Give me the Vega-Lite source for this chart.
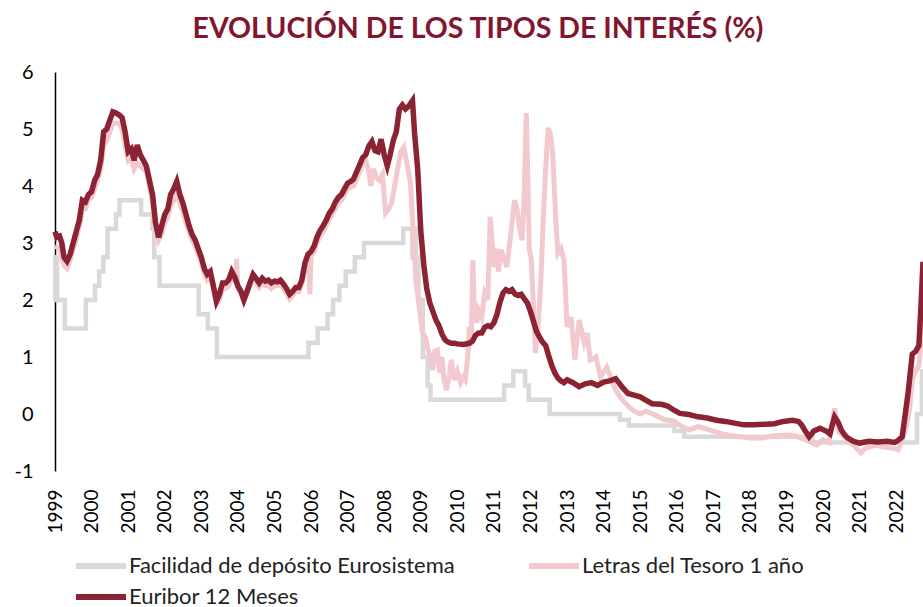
{
  "$schema": "https://vega.github.io/schema/vega-lite/v6.json",
  "width": 868,
  "height": 399,
  "autosize": {"type": "none"},
  "padding": {"left": 55, "top": 72, "right": 0, "bottom": 136},
  "background": "white",
  "config": {
    "view": {"stroke": null},
    "font": "Lato",
    "axis": {"labelFont": "Lato", "labelFontSize": 20, "labelColor": "#000000", "grid": false, "title": null}
  },
  "title": {
    "text": "EVOLUCIÓN DE LOS TIPOS DE INTERÉS (%)",
    "font": "Lato",
    "fontSize": 28.5,
    "fontWeight": "bold",
    "color": "#82162F",
    "anchor": "middle",
    "dx": -11,
    "offset": 19
  },
  "datasets": {
    "dep": [
      {"d": "1999-01-01", "v": 2.0}, {"d": "1999-01-04", "v": 2.75}, {"d": "1999-01-22", "v": 2.0},
      {"d": "1999-04-09", "v": 1.5}, {"d": "1999-11-05", "v": 2.0}, {"d": "2000-02-04", "v": 2.25},
      {"d": "2000-03-17", "v": 2.5}, {"d": "2000-04-28", "v": 2.75}, {"d": "2000-06-09", "v": 3.25},
      {"d": "2000-09-01", "v": 3.5}, {"d": "2000-10-06", "v": 3.75}, {"d": "2001-05-11", "v": 3.5},
      {"d": "2001-08-31", "v": 3.25}, {"d": "2001-09-18", "v": 2.75}, {"d": "2001-11-09", "v": 2.25},
      {"d": "2002-12-06", "v": 1.75}, {"d": "2003-03-07", "v": 1.5}, {"d": "2003-06-06", "v": 1.0},
      {"d": "2005-12-06", "v": 1.25}, {"d": "2006-03-08", "v": 1.5}, {"d": "2006-06-15", "v": 1.75},
      {"d": "2006-08-09", "v": 2.0}, {"d": "2006-10-11", "v": 2.25}, {"d": "2006-12-13", "v": 2.5},
      {"d": "2007-03-14", "v": 2.75}, {"d": "2007-06-13", "v": 3.0}, {"d": "2008-07-09", "v": 3.25},
      {"d": "2008-10-08", "v": 2.75}, {"d": "2008-10-15", "v": 3.25}, {"d": "2008-11-12", "v": 2.75},
      {"d": "2008-12-10", "v": 2.0}, {"d": "2009-01-21", "v": 1.0}, {"d": "2009-03-11", "v": 0.5},
      {"d": "2009-04-08", "v": 0.25}, {"d": "2011-04-13", "v": 0.5}, {"d": "2011-07-13", "v": 0.75},
      {"d": "2011-11-09", "v": 0.5}, {"d": "2011-12-14", "v": 0.25}, {"d": "2012-07-11", "v": 0.0},
      {"d": "2014-06-11", "v": -0.1}, {"d": "2014-09-10", "v": -0.2}, {"d": "2015-12-09", "v": -0.3},
      {"d": "2016-03-16", "v": -0.4}, {"d": "2019-09-18", "v": -0.5}, {"d": "2022-07-27", "v": 0.0},
      {"d": "2022-09-14", "v": 0.75}, {"d": "2022-09-25", "v": 0.75}
    ],
    "letras": [
      {"d": "1999-01-01", "v": 2.95}, {"d": "1999-02-15", "v": 2.9}, {"d": "1999-04-01", "v": 2.6},
      {"d": "1999-05-01", "v": 2.55}, {"d": "1999-06-01", "v": 2.7}, {"d": "1999-07-01", "v": 2.9},
      {"d": "1999-08-01", "v": 3.05}, {"d": "1999-09-01", "v": 3.3}, {"d": "1999-10-01", "v": 3.6},
      {"d": "1999-11-01", "v": 3.6}, {"d": "1999-12-01", "v": 3.75}, {"d": "2000-01-01", "v": 3.8},
      {"d": "2000-02-01", "v": 3.95}, {"d": "2000-03-01", "v": 4.1}, {"d": "2000-04-01", "v": 4.3},
      {"d": "2000-05-01", "v": 4.7}, {"d": "2000-06-01", "v": 4.8}, {"d": "2000-07-01", "v": 4.95},
      {"d": "2000-08-01", "v": 5.1}, {"d": "2000-09-01", "v": 5.1}, {"d": "2000-10-01", "v": 5.1},
      {"d": "2000-11-01", "v": 5.0}, {"d": "2000-12-01", "v": 4.7}, {"d": "2001-01-01", "v": 4.45},
      {"d": "2001-02-01", "v": 4.5}, {"d": "2001-03-01", "v": 4.3}, {"d": "2001-04-01", "v": 4.4},
      {"d": "2001-05-01", "v": 4.35}, {"d": "2001-06-01", "v": 4.3}, {"d": "2001-07-01", "v": 4.25},
      {"d": "2001-08-01", "v": 4.0}, {"d": "2001-09-01", "v": 3.7}, {"d": "2001-10-01", "v": 3.25},
      {"d": "2001-11-01", "v": 3.05}, {"d": "2001-12-01", "v": 3.15}, {"d": "2002-01-01", "v": 3.35},
      {"d": "2002-02-01", "v": 3.45}, {"d": "2002-03-01", "v": 3.65}, {"d": "2002-04-01", "v": 3.75},
      {"d": "2002-05-01", "v": 3.85}, {"d": "2002-06-01", "v": 3.7}, {"d": "2002-07-01", "v": 3.55},
      {"d": "2002-08-01", "v": 3.35}, {"d": "2002-09-01", "v": 3.2}, {"d": "2002-10-01", "v": 3.05},
      {"d": "2002-11-01", "v": 2.95}, {"d": "2002-12-01", "v": 2.8}, {"d": "2003-01-01", "v": 2.65},
      {"d": "2003-02-01", "v": 2.45}, {"d": "2003-03-01", "v": 2.35}, {"d": "2003-04-01", "v": 2.4},
      {"d": "2003-05-01", "v": 2.2}, {"d": "2003-06-01", "v": 1.92}, {"d": "2003-07-01", "v": 2.0},
      {"d": "2003-08-01", "v": 2.2}, {"d": "2003-09-01", "v": 2.2}, {"d": "2003-10-01", "v": 2.25},
      {"d": "2003-11-01", "v": 2.4}, {"d": "2003-12-10", "v": 2.35}, {"d": "2003-12-20", "v": 2.72},
      {"d": "2004-01-01", "v": 2.2}, {"d": "2004-02-01", "v": 2.1}, {"d": "2004-03-01", "v": 2.0},
      {"d": "2004-04-01", "v": 2.1}, {"d": "2004-05-01", "v": 2.25}, {"d": "2004-06-01", "v": 2.35},
      {"d": "2004-07-01", "v": 2.3}, {"d": "2004-08-01", "v": 2.22}, {"d": "2004-09-01", "v": 2.3},
      {"d": "2004-10-01", "v": 2.25}, {"d": "2004-11-01", "v": 2.25}, {"d": "2004-12-01", "v": 2.2},
      {"d": "2005-01-01", "v": 2.25}, {"d": "2005-02-01", "v": 2.25}, {"d": "2005-03-01", "v": 2.28},
      {"d": "2005-04-01", "v": 2.2}, {"d": "2005-05-01", "v": 2.12}, {"d": "2005-06-01", "v": 2.02},
      {"d": "2005-07-01", "v": 2.08}, {"d": "2005-08-01", "v": 2.15}, {"d": "2005-09-01", "v": 2.15},
      {"d": "2005-10-01", "v": 2.28}, {"d": "2005-11-01", "v": 2.55}, {"d": "2005-12-10", "v": 2.75},
      {"d": "2005-12-20", "v": 2.1}, {"d": "2006-01-01", "v": 2.78}, {"d": "2006-02-01", "v": 2.85},
      {"d": "2006-03-01", "v": 3.0}, {"d": "2006-04-01", "v": 3.12}, {"d": "2006-05-01", "v": 3.2},
      {"d": "2006-06-01", "v": 3.3}, {"d": "2006-07-01", "v": 3.42}, {"d": "2006-08-01", "v": 3.5},
      {"d": "2006-09-01", "v": 3.6}, {"d": "2006-10-01", "v": 3.7}, {"d": "2006-11-01", "v": 3.75},
      {"d": "2006-12-01", "v": 3.85}, {"d": "2007-01-01", "v": 3.95}, {"d": "2007-02-01", "v": 3.98},
      {"d": "2007-03-01", "v": 4.0}, {"d": "2007-04-01", "v": 4.12}, {"d": "2007-05-01", "v": 4.25},
      {"d": "2007-06-01", "v": 4.4}, {"d": "2007-07-01", "v": 4.45}, {"d": "2007-08-01", "v": 4.25},
      {"d": "2007-08-20", "v": 4.0}, {"d": "2007-09-15", "v": 4.3}, {"d": "2007-10-15", "v": 4.15},
      {"d": "2007-11-15", "v": 4.1}, {"d": "2007-12-15", "v": 4.2}, {"d": "2008-01-15", "v": 3.53},
      {"d": "2008-02-15", "v": 3.6}, {"d": "2008-03-15", "v": 3.7}, {"d": "2008-04-15", "v": 4.0},
      {"d": "2008-05-15", "v": 4.3}, {"d": "2008-06-15", "v": 4.6}, {"d": "2008-07-15", "v": 4.68},
      {"d": "2008-08-15", "v": 4.4}, {"d": "2008-09-20", "v": 4.05}, {"d": "2008-10-20", "v": 3.1},
      {"d": "2008-11-15", "v": 2.3}, {"d": "2008-12-15", "v": 1.9}, {"d": "2009-01-15", "v": 1.45},
      {"d": "2009-02-15", "v": 1.35}, {"d": "2009-03-15", "v": 1.12}, {"d": "2009-04-15", "v": 0.95},
      {"d": "2009-05-01", "v": 0.77}, {"d": "2009-05-20", "v": 1.1}, {"d": "2009-06-15", "v": 1.12},
      {"d": "2009-07-10", "v": 0.72}, {"d": "2009-08-01", "v": 1.0}, {"d": "2009-08-20", "v": 0.6},
      {"d": "2009-09-15", "v": 0.42}, {"d": "2009-10-15", "v": 0.7}, {"d": "2009-11-01", "v": 0.95},
      {"d": "2009-12-01", "v": 0.6}, {"d": "2010-01-01", "v": 0.75}, {"d": "2010-02-01", "v": 0.55},
      {"d": "2010-03-01", "v": 0.65}, {"d": "2010-03-20", "v": 0.6}, {"d": "2010-04-15", "v": 1.0},
      {"d": "2010-05-01", "v": 1.53}, {"d": "2010-05-20", "v": 1.3}, {"d": "2010-06-05", "v": 2.7},
      {"d": "2010-06-20", "v": 1.8}, {"d": "2010-07-15", "v": 1.6}, {"d": "2010-08-01", "v": 1.82},
      {"d": "2010-09-01", "v": 1.7}, {"d": "2010-10-01", "v": 2.12}, {"d": "2010-11-01", "v": 2.0},
      {"d": "2010-11-25", "v": 3.46}, {"d": "2010-12-10", "v": 3.1}, {"d": "2011-01-01", "v": 2.58},
      {"d": "2011-02-01", "v": 2.9}, {"d": "2011-02-15", "v": 2.5}, {"d": "2011-03-15", "v": 2.88},
      {"d": "2011-05-10", "v": 2.58}, {"d": "2011-06-15", "v": 3.1}, {"d": "2011-07-25", "v": 3.75},
      {"d": "2011-08-20", "v": 3.6}, {"d": "2011-09-20", "v": 3.2}, {"d": "2011-10-10", "v": 3.05},
      {"d": "2011-10-30", "v": 3.8}, {"d": "2011-11-20", "v": 5.28}, {"d": "2011-12-05", "v": 4.2},
      {"d": "2011-12-20", "v": 2.9}, {"d": "2012-01-10", "v": 2.7}, {"d": "2012-02-20", "v": 1.07},
      {"d": "2012-03-20", "v": 1.6}, {"d": "2012-04-15", "v": 2.4}, {"d": "2012-05-10", "v": 3.5},
      {"d": "2012-06-01", "v": 4.3}, {"d": "2012-06-25", "v": 5.02}, {"d": "2012-07-20", "v": 4.9},
      {"d": "2012-08-10", "v": 4.58}, {"d": "2012-09-10", "v": 3.4}, {"d": "2012-10-01", "v": 2.82},
      {"d": "2012-11-01", "v": 2.9}, {"d": "2012-12-01", "v": 2.7}, {"d": "2013-01-01", "v": 1.53},
      {"d": "2013-02-10", "v": 1.7}, {"d": "2013-03-20", "v": 0.95}, {"d": "2013-05-01", "v": 1.65},
      {"d": "2013-06-20", "v": 1.25}, {"d": "2013-07-20", "v": 1.42}, {"d": "2013-08-20", "v": 0.95},
      {"d": "2013-10-15", "v": 1.0}, {"d": "2013-12-01", "v": 0.65}, {"d": "2014-02-01", "v": 0.82},
      {"d": "2014-04-01", "v": 0.55}, {"d": "2014-05-01", "v": 0.42}, {"d": "2014-06-15", "v": 0.3},
      {"d": "2014-08-01", "v": 0.2}, {"d": "2014-09-15", "v": 0.12}, {"d": "2014-11-01", "v": 0.05},
      {"d": "2015-01-01", "v": 0.0}, {"d": "2015-03-01", "v": 0.05}, {"d": "2015-06-01", "v": -0.02},
      {"d": "2015-09-01", "v": -0.1}, {"d": "2015-12-01", "v": -0.12}, {"d": "2016-02-01", "v": -0.2},
      {"d": "2016-05-01", "v": -0.28}, {"d": "2016-08-01", "v": -0.22}, {"d": "2016-10-01", "v": -0.25},
      {"d": "2017-01-01", "v": -0.3}, {"d": "2017-04-01", "v": -0.35}, {"d": "2017-07-01", "v": -0.38},
      {"d": "2017-10-01", "v": -0.4}, {"d": "2018-01-01", "v": -0.42}, {"d": "2018-05-01", "v": -0.42},
      {"d": "2018-09-01", "v": -0.38}, {"d": "2019-01-01", "v": -0.37}, {"d": "2019-04-01", "v": -0.38},
      {"d": "2019-07-01", "v": -0.45}, {"d": "2019-09-01", "v": -0.5}, {"d": "2019-11-01", "v": -0.54},
      {"d": "2020-01-01", "v": -0.45}, {"d": "2020-03-01", "v": -0.5}, {"d": "2020-04-25", "v": 0.1},
      {"d": "2020-06-01", "v": -0.3}, {"d": "2020-09-01", "v": -0.46}, {"d": "2020-11-01", "v": -0.55},
      {"d": "2021-01-10", "v": -0.68}, {"d": "2021-03-01", "v": -0.6}, {"d": "2021-06-01", "v": -0.55},
      {"d": "2021-09-01", "v": -0.58}, {"d": "2021-12-01", "v": -0.6}, {"d": "2022-01-20", "v": -0.63},
      {"d": "2022-03-01", "v": -0.45}, {"d": "2022-04-15", "v": -0.2}, {"d": "2022-05-15", "v": 0.1},
      {"d": "2022-06-10", "v": 0.6}, {"d": "2022-07-15", "v": 0.75}, {"d": "2022-08-15", "v": 0.85},
      {"d": "2022-09-25", "v": 1.6}
    ],
    "euribor": [
      {"d": "1999-01-01", "v": 3.2}, {"d": "1999-01-20", "v": 3.1}, {"d": "1999-02-15", "v": 3.12},
      {"d": "1999-03-10", "v": 3.0}, {"d": "1999-04-01", "v": 2.75}, {"d": "1999-05-01", "v": 2.68},
      {"d": "1999-06-01", "v": 2.8}, {"d": "1999-07-01", "v": 3.0}, {"d": "1999-08-01", "v": 3.2},
      {"d": "1999-09-01", "v": 3.4}, {"d": "1999-10-01", "v": 3.75}, {"d": "1999-11-01", "v": 3.72},
      {"d": "1999-12-01", "v": 3.85}, {"d": "2000-01-01", "v": 3.9}, {"d": "2000-02-01", "v": 4.1},
      {"d": "2000-03-01", "v": 4.2}, {"d": "2000-04-01", "v": 4.45}, {"d": "2000-05-01", "v": 4.95},
      {"d": "2000-06-01", "v": 5.0}, {"d": "2000-07-01", "v": 5.15}, {"d": "2000-08-01", "v": 5.3},
      {"d": "2000-09-01", "v": 5.28}, {"d": "2000-10-01", "v": 5.25}, {"d": "2000-11-01", "v": 5.2},
      {"d": "2000-12-01", "v": 4.95}, {"d": "2001-01-01", "v": 4.6}, {"d": "2001-02-01", "v": 4.65},
      {"d": "2001-03-01", "v": 4.45}, {"d": "2001-04-01", "v": 4.72}, {"d": "2001-05-01", "v": 4.55},
      {"d": "2001-06-01", "v": 4.45}, {"d": "2001-07-01", "v": 4.35}, {"d": "2001-08-01", "v": 4.1},
      {"d": "2001-09-01", "v": 3.85}, {"d": "2001-10-01", "v": 3.35}, {"d": "2001-11-01", "v": 3.1},
      {"d": "2001-12-01", "v": 3.3}, {"d": "2002-01-01", "v": 3.5}, {"d": "2002-02-01", "v": 3.6},
      {"d": "2002-03-01", "v": 3.85}, {"d": "2002-04-01", "v": 3.95}, {"d": "2002-05-01", "v": 4.08},
      {"d": "2002-06-01", "v": 3.85}, {"d": "2002-07-01", "v": 3.7}, {"d": "2002-08-01", "v": 3.5},
      {"d": "2002-09-01", "v": 3.3}, {"d": "2002-10-01", "v": 3.15}, {"d": "2002-11-01", "v": 3.05},
      {"d": "2002-12-01", "v": 2.9}, {"d": "2003-01-01", "v": 2.75}, {"d": "2003-02-01", "v": 2.55},
      {"d": "2003-03-01", "v": 2.45}, {"d": "2003-04-01", "v": 2.5}, {"d": "2003-05-01", "v": 2.25},
      {"d": "2003-06-01", "v": 1.98}, {"d": "2003-07-01", "v": 2.1}, {"d": "2003-08-01", "v": 2.3},
      {"d": "2003-09-01", "v": 2.3}, {"d": "2003-10-01", "v": 2.35}, {"d": "2003-11-01", "v": 2.5},
      {"d": "2003-12-01", "v": 2.4}, {"d": "2004-01-01", "v": 2.25}, {"d": "2004-02-01", "v": 2.15},
      {"d": "2004-03-01", "v": 2.0}, {"d": "2004-04-01", "v": 2.15}, {"d": "2004-05-01", "v": 2.3},
      {"d": "2004-06-01", "v": 2.45}, {"d": "2004-07-01", "v": 2.38}, {"d": "2004-08-01", "v": 2.3},
      {"d": "2004-09-01", "v": 2.38}, {"d": "2004-10-01", "v": 2.33}, {"d": "2004-11-01", "v": 2.35},
      {"d": "2004-12-01", "v": 2.3}, {"d": "2005-01-01", "v": 2.33}, {"d": "2005-02-01", "v": 2.32},
      {"d": "2005-03-01", "v": 2.35}, {"d": "2005-04-01", "v": 2.28}, {"d": "2005-05-01", "v": 2.2},
      {"d": "2005-06-01", "v": 2.1}, {"d": "2005-07-01", "v": 2.15}, {"d": "2005-08-01", "v": 2.22},
      {"d": "2005-09-01", "v": 2.22}, {"d": "2005-10-01", "v": 2.35}, {"d": "2005-11-01", "v": 2.65},
      {"d": "2005-12-01", "v": 2.8}, {"d": "2006-01-01", "v": 2.85}, {"d": "2006-02-01", "v": 2.95},
      {"d": "2006-03-01", "v": 3.1}, {"d": "2006-04-01", "v": 3.22}, {"d": "2006-05-01", "v": 3.3},
      {"d": "2006-06-01", "v": 3.4}, {"d": "2006-07-01", "v": 3.52}, {"d": "2006-08-01", "v": 3.6},
      {"d": "2006-09-01", "v": 3.72}, {"d": "2006-10-01", "v": 3.8}, {"d": "2006-11-01", "v": 3.85},
      {"d": "2006-12-01", "v": 3.95}, {"d": "2007-01-01", "v": 4.05}, {"d": "2007-02-01", "v": 4.08},
      {"d": "2007-03-01", "v": 4.12}, {"d": "2007-04-01", "v": 4.25}, {"d": "2007-05-01", "v": 4.37},
      {"d": "2007-06-01", "v": 4.5}, {"d": "2007-07-01", "v": 4.55}, {"d": "2007-08-01", "v": 4.7},
      {"d": "2007-09-01", "v": 4.78}, {"d": "2007-10-01", "v": 4.62}, {"d": "2007-11-01", "v": 4.6},
      {"d": "2007-12-01", "v": 4.82}, {"d": "2008-01-01", "v": 4.55}, {"d": "2008-02-01", "v": 4.35},
      {"d": "2008-03-01", "v": 4.55}, {"d": "2008-04-01", "v": 4.8}, {"d": "2008-05-01", "v": 4.95},
      {"d": "2008-06-01", "v": 5.35}, {"d": "2008-07-01", "v": 5.42}, {"d": "2008-08-01", "v": 5.35},
      {"d": "2008-09-01", "v": 5.4}, {"d": "2008-10-10", "v": 5.5}, {"d": "2008-11-01", "v": 4.9},
      {"d": "2008-12-01", "v": 4.3}, {"d": "2009-01-01", "v": 3.2}, {"d": "2009-02-01", "v": 2.6},
      {"d": "2009-03-01", "v": 2.2}, {"d": "2009-04-01", "v": 1.95}, {"d": "2009-05-01", "v": 1.8},
      {"d": "2009-06-01", "v": 1.65}, {"d": "2009-07-01", "v": 1.55}, {"d": "2009-08-01", "v": 1.4},
      {"d": "2009-09-01", "v": 1.3}, {"d": "2009-10-01", "v": 1.26}, {"d": "2009-11-01", "v": 1.24},
      {"d": "2009-12-01", "v": 1.24}, {"d": "2010-01-01", "v": 1.23}, {"d": "2010-03-01", "v": 1.22},
      {"d": "2010-05-01", "v": 1.24}, {"d": "2010-06-01", "v": 1.28}, {"d": "2010-07-01", "v": 1.38},
      {"d": "2010-08-01", "v": 1.42}, {"d": "2010-09-01", "v": 1.42}, {"d": "2010-10-01", "v": 1.52},
      {"d": "2010-11-01", "v": 1.55}, {"d": "2010-12-01", "v": 1.53}, {"d": "2011-01-01", "v": 1.6},
      {"d": "2011-02-01", "v": 1.75}, {"d": "2011-03-01", "v": 1.95}, {"d": "2011-04-01", "v": 2.12},
      {"d": "2011-05-01", "v": 2.18}, {"d": "2011-06-01", "v": 2.15}, {"d": "2011-07-01", "v": 2.18},
      {"d": "2011-08-01", "v": 2.1}, {"d": "2011-09-01", "v": 2.08}, {"d": "2011-10-01", "v": 2.1},
      {"d": "2011-11-01", "v": 2.02}, {"d": "2011-12-01", "v": 1.95}, {"d": "2012-01-01", "v": 1.8},
      {"d": "2012-02-01", "v": 1.62}, {"d": "2012-03-01", "v": 1.45}, {"d": "2012-04-01", "v": 1.35},
      {"d": "2012-05-01", "v": 1.26}, {"d": "2012-06-01", "v": 1.2}, {"d": "2012-07-01", "v": 1.02},
      {"d": "2012-08-01", "v": 0.85}, {"d": "2012-09-01", "v": 0.72}, {"d": "2012-10-01", "v": 0.63},
      {"d": "2012-11-01", "v": 0.58}, {"d": "2012-12-01", "v": 0.55}, {"d": "2013-01-01", "v": 0.6},
      {"d": "2013-03-01", "v": 0.55}, {"d": "2013-05-01", "v": 0.48}, {"d": "2013-07-01", "v": 0.53},
      {"d": "2013-09-01", "v": 0.55}, {"d": "2013-11-01", "v": 0.5}, {"d": "2014-01-01", "v": 0.56},
      {"d": "2014-03-01", "v": 0.58}, {"d": "2014-05-01", "v": 0.62}, {"d": "2014-06-01", "v": 0.55},
      {"d": "2014-07-01", "v": 0.48}, {"d": "2014-09-01", "v": 0.36}, {"d": "2014-11-01", "v": 0.33},
      {"d": "2015-01-01", "v": 0.3}, {"d": "2015-03-01", "v": 0.24}, {"d": "2015-05-01", "v": 0.18},
      {"d": "2015-08-01", "v": 0.17}, {"d": "2015-10-01", "v": 0.14}, {"d": "2015-12-01", "v": 0.07},
      {"d": "2016-02-01", "v": 0.01}, {"d": "2016-05-01", "v": -0.01}, {"d": "2016-08-01", "v": -0.05},
      {"d": "2016-11-01", "v": -0.07}, {"d": "2017-02-01", "v": -0.11}, {"d": "2017-05-01", "v": -0.13},
      {"d": "2017-08-01", "v": -0.16}, {"d": "2017-11-01", "v": -0.19}, {"d": "2018-02-01", "v": -0.19},
      {"d": "2018-06-01", "v": -0.18}, {"d": "2018-09-01", "v": -0.17}, {"d": "2018-12-01", "v": -0.13},
      {"d": "2019-03-01", "v": -0.11}, {"d": "2019-05-01", "v": -0.13}, {"d": "2019-06-01", "v": -0.19},
      {"d": "2019-07-01", "v": -0.28}, {"d": "2019-08-15", "v": -0.4}, {"d": "2019-10-01", "v": -0.3},
      {"d": "2019-12-01", "v": -0.25}, {"d": "2020-02-01", "v": -0.3}, {"d": "2020-03-10", "v": -0.35},
      {"d": "2020-04-01", "v": -0.2}, {"d": "2020-04-25", "v": -0.05}, {"d": "2020-06-01", "v": -0.15},
      {"d": "2020-07-01", "v": -0.28}, {"d": "2020-08-01", "v": -0.36}, {"d": "2020-09-01", "v": -0.42},
      {"d": "2020-11-01", "v": -0.48}, {"d": "2021-01-01", "v": -0.51}, {"d": "2021-04-01", "v": -0.48},
      {"d": "2021-07-01", "v": -0.49}, {"d": "2021-10-01", "v": -0.48}, {"d": "2021-12-15", "v": -0.5},
      {"d": "2022-01-15", "v": -0.47}, {"d": "2022-03-01", "v": -0.4}, {"d": "2022-04-01", "v": 0.0},
      {"d": "2022-05-01", "v": 0.4}, {"d": "2022-06-10", "v": 1.05}, {"d": "2022-07-15", "v": 1.1},
      {"d": "2022-08-15", "v": 1.2}, {"d": "2022-09-05", "v": 1.9}, {"d": "2022-09-25", "v": 2.67}
    ]
  },
  "encoding": {
    "x": {
      "field": "d",
      "type": "temporal",
      "scale": {"type": "utc", "domain": [{"year": 1999, "month": 1, "date": 1, "utc": true}, {"year": 2022, "month": 9, "date": 25, "utc": true}]},
      "axis": {
        "orient": "bottom",
        "domain": false,
        "ticks": false,
        "format": "%Y",
        "tickCount": {"interval": "year", "step": 1},
        "labelAngle": 270,
        "labelAlign": "right",
        "labelBaseline": "middle",
        "labelPadding": 18,
        "labelFontSize": 19,
        "labelOverlap": false,
        "labelFlush": false
      }
    },
    "y": {
      "field": "v",
      "type": "quantitative",
      "scale": {"domain": [-1, 6], "nice": false, "zero": false},
      "axis": {
        "values": [-1, 0, 1, 2, 3, 4, 5, 6],
        "domain": true,
        "domainColor": "#000000",
        "domainWidth": 1.5,
        "ticks": false,
        "labelPadding": 22,
        "labelExpr": "'' + datum.value"
      }
    }
  },
  "layer": [
    {
      "mark": {"type": "rule", "color": "#000000", "strokeWidth": 2.5},
      "encoding": {"y": {"datum": 0}, "x": null}
    },
    {
      "data": {"name": "dep"},
      "mark": {"type": "line", "interpolate": "step-after", "strokeWidth": 4.5},
      "encoding": {
        "color": {
          "datum": "Facilidad de depósito Eurosistema",
          "scale": {"domain": ["Facilidad de depósito Eurosistema", "Letras del Tesoro 1 año", "Euribor 12 Meses"], "range": ["#D9D9D9", "#F2C9CE", "#8B2332"]},
          "legend": {
            "title": null,
            "orient": "none",
            "legendX": 35,
            "legendY": 483,
            "direction": "horizontal",
            "columns": 2,
            "columnPadding": 62,
            "rowPadding": 7,
            "symbolType": "M-5,0H5",
            "symbolSize": 100,
            "symbolStrokeWidth": 6,
            "labelFont": "Lato",
            "labelFontSize": 22,
            "labelColor": "#222222",
            "labelOffset": 17,
            "labelLimit": 500
          }
        }
      }
    },
    {
      "data": {"name": "letras"},
      "mark": {"type": "line", "strokeWidth": 5},
      "encoding": {"color": {"datum": "Letras del Tesoro 1 año"}}
    },
    {
      "data": {"name": "euribor"},
      "mark": {"type": "line", "strokeWidth": 5.5},
      "encoding": {"color": {"datum": "Euribor 12 Meses"}}
    }
  ]
}
